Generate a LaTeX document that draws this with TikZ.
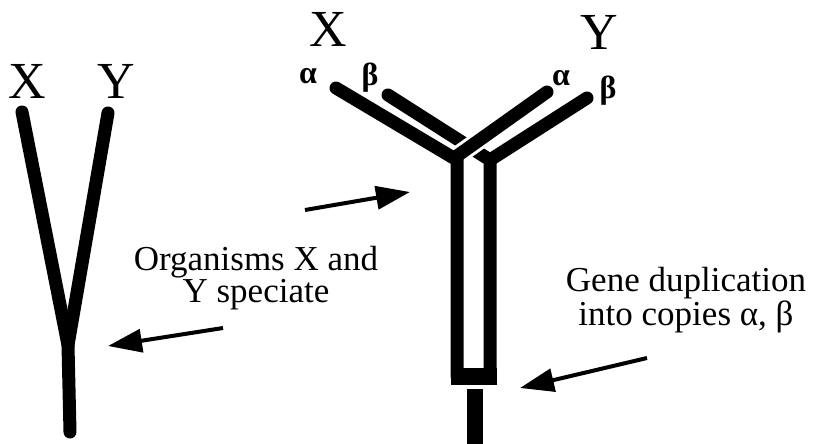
\documentclass[tikz,border=0pt]{standalone}
\usepackage{fontspec}
\setmainfont{Liberation Serif}
\usetikzlibrary{arrows.meta}
\begin{document}
\begin{tikzpicture}[x=1pt,y=-1pt,line cap=round,
  branch/.style={line width=13pt},
  halo/.style={line width=19pt,white},
  pointer/.style={line width=4pt,line cap=butt,-{Triangle[length=34pt,width=23pt]}},
  taxon/.style={font=\fontsize{52}{52}\selectfont},
  gene/.style={font=\bfseries\fontsize{32}{32}\selectfont},
  caption/.style={font=\fontsize{35}{32}\selectfont,align=center,anchor=base}]
  \useasboundingbox (0,0) rectangle (815,444);
  % speciation tree
  \draw[branch] (22,112) -- (68,345) -- (70,432);
  \draw[branch] (108,113) -- (68,345);
  \node[taxon] (lx) at (27,81) {X};
  \node[taxon] (ly) at (116,81) {Y};
  % beta copy
  \draw[branch] (388,95) -- (490,160) -- (490,376);
  \draw[branch] (587,98) -- (490,160);
  % alpha copy
  \draw[halo] (547,92) -- (457,156);
  \draw[halo] (336,88) -- (457,160) -- (457,376);
  \draw[branch] (336,88) -- (457,160) -- (457,376);
  \draw[branch] (547,92) -- (457,156);
  \fill (451,368) rectangle (497,385);
  \draw[line width=16pt,line cap=butt] (475,389) -- (475,444);
  \node[taxon] (mx) at (328,29) {X};
  \node[taxon] (my) at (599,32) {Y};
  \node[gene] (ax) at (308,76) {α};
  \node[gene] (bx) at (370,78) {β};
  \node[gene] (ay) at (561,78) {α};
  \node[gene] (by) at (608,91) {β};
  % captions
  \node[caption] (speciate) at (256,302) {Organisms X and\\Y speciate};
  \node[caption] (duplication) at (686,325) {Gene duplication\\into copies α, β};
  \coordinate (s1) at (223,328);
  \coordinate (s2) at (108,346);
  \coordinate (s3) at (305,210);
  \coordinate (s4) at (410,192);
  \coordinate (d1) at (647,358);
  \coordinate (d2) at (520,388);
  \draw[pointer] (s1) -- (s2);
  \draw[pointer] (s3) -- (s4);
  \draw[pointer] (d1) -- (d2);
\end{tikzpicture}
\end{document}
